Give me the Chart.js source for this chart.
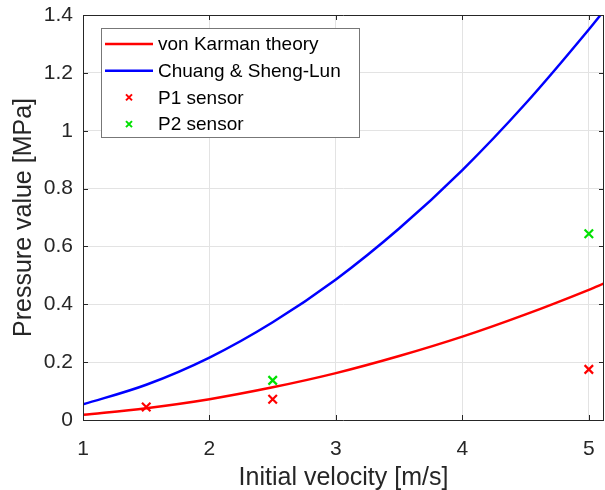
<!DOCTYPE html>
<html>
<head>
<meta charset="utf-8">
<script src="https://cdn.jsdelivr.net/npm/chart.js@4/dist/chart.umd.min.js"></script>
<style>
  html, body { margin: 0; padding: 0; background: #fff; }
  #wrap { width: 605px; height: 490px; }
</style>
</head>
<body>
<div id="wrap"><canvas id="myCanvas" width="605" height="490"></canvas></div>
<script>
'use strict';

// values
let velocity = [1, 1.5, 2, 2.5, 3, 3.5, 4, 4.5, 5, 5.12];
let karman   = [0.018, 0.041, 0.072, 0.113, 0.162, 0.221, 0.288, 0.365, 0.45, 0.472];
let chuang   = [0.054, 0.122, 0.216, 0.338, 0.486, 0.662, 0.864, 1.094, 1.35, 1.415];

let p1Vel = [1.5, 2.5, 5];
let p1Val = [0.045, 0.072, 0.175];
let p2Vel = [2.5, 5];
let p2Val = [0.137, 0.644];

let xTicks = [1, 2, 3, 4, 5];
let yTicks = [0, 0.2, 0.4, 0.6, 0.8, 1, 1.2, 1.4];

let fontName = "'Liberation Sans', Arial, sans-serif";
let axisColor = '#262626';

function toPoints(xs, ys){
	let pts = [];
	for (let i = 0; i < xs.length; i++) {
		pts.push({x: xs[i], y: ys[i]});
	}
	return pts;
}

// MATLAB style box with inward ticks
let boxPlugin = {
	id: 'box',
	afterDatasetsDraw(chart){
		let ctx = chart.ctx;
		let a = chart.chartArea;
		let xs = chart.scales.x, ys = chart.scales.y;
		ctx.save();
		ctx.strokeStyle = axisColor;
		ctx.lineWidth = 1;
		ctx.beginPath();
		ctx.rect(Math.round(a.left) + 0.5, Math.round(a.top) + 0.5,
			Math.round(a.right - a.left) - 1, Math.round(a.bottom - a.top));
		for (let t of xTicks) {
			let px = Math.round(xs.getPixelForValue(t)) + 0.5;
			ctx.moveTo(px, a.bottom); ctx.lineTo(px, a.bottom - 5);
			ctx.moveTo(px, a.top); ctx.lineTo(px, a.top + 5);
		}
		for (let t of yTicks) {
			let py = Math.round(ys.getPixelForValue(t)) + 0.5;
			ctx.moveTo(a.left, py); ctx.lineTo(a.left + 5, py);
			ctx.moveTo(a.right, py); ctx.lineTo(a.right - 5, py);
		}
		ctx.stroke();
		ctx.restore();
	}
};

// legend box inside the axes
let legendPlugin = {
	id: 'boxLegend',
	afterDraw(chart){
		let ctx = chart.ctx;
		let bx = 101, by = 28, bw = 258, bh = 109;
		ctx.save();
		ctx.fillStyle = '#fff';
		ctx.fillRect(bx, by, bw, bh);
		ctx.strokeStyle = '#777';
		ctx.lineWidth = 1;
		ctx.strokeRect(bx + 0.5, by + 0.5, bw, bh);
		ctx.font = '19px ' + fontName;
		ctx.textBaseline = 'middle';
		ctx.fillStyle = '#000';
		chart.data.datasets.forEach(function(ds, i){
			let cy = 44 + i * 26.7;
			ctx.strokeStyle = ds.borderColor;
			ctx.lineWidth = 2.5;
			ctx.beginPath();
			if (ds.showLine) {
				ctx.moveTo(105, cy); ctx.lineTo(153, cy);
			} else {
				ctx.lineWidth = 2;
				ctx.moveTo(126, cy - 3); ctx.lineTo(132, cy + 3);
				ctx.moveTo(126, cy + 3); ctx.lineTo(132, cy - 3);
			}
			ctx.stroke();
			ctx.fillText(ds.label, 158, cy + 1);
		});
		ctx.restore();
	}
};

let myChart = document.getElementById('myCanvas').getContext('2d');
let myPlot = new Chart(myChart, {
	type: 'scatter',
	data: {
		datasets: [{
			label: 'von Karman theory',
			data: toPoints(velocity, karman),
			showLine: true,
			borderColor: '#ff0000',
			borderWidth: 2.5,
			pointRadius: 0,
			cubicInterpolationMode: 'monotone'
		}, {
			label: 'Chuang & Sheng-Lun',
			data: toPoints(velocity, chuang),
			showLine: true,
			borderColor: '#0000ff',
			borderWidth: 2.5,
			pointRadius: 0,
			cubicInterpolationMode: 'monotone'
		}, {
			label: 'P1 sensor',
			data: toPoints(p1Vel, p1Val),
			showLine: false,
			borderColor: '#ff0000',
			pointStyle: 'crossRot',
			pointRadius: 6,
			borderWidth: 2.2
		}, {
			label: 'P2 sensor',
			data: toPoints(p2Vel, p2Val),
			showLine: false,
			borderColor: '#00e000',
			pointStyle: 'crossRot',
			pointRadius: 6,
			borderWidth: 2.2
		}]
	},
	options: {
		responsive: false,
		animation: false,
		layout: { autoPadding: false, padding: { top: 15, right: 1, left: 0, bottom: 0 } },
		plugins: {
			legend: { display: false },
			tooltip: { enabled: false }
		},
		scales: {
			x: {
				type: 'linear',
				min: 1,
				max: 5.12,
				afterBuildTicks: function(scale){
					scale.ticks = xTicks.map(function(v){ return {value: v}; });
				},
				afterFit: function(scale){
					scale.height = 70;
					scale.paddingLeft = 0;
					scale.paddingRight = 0;
				},
				grid: { color: '#e3e3e3', drawTicks: false },
				border: { display: false },
				ticks: {
					color: axisColor,
					padding: 17,
					font: { family: fontName, size: 21 }
				},
				title: {
					display: true,
					text: 'Initial velocity [m/s]',
					color: axisColor,
					padding: { top: 0, bottom: -3 },
					font: { family: fontName, size: 25 }
				}
			},
			y: {
				type: 'linear',
				min: 0,
				max: 1.4,
				afterBuildTicks: function(scale){
					scale.ticks = yTicks.map(function(v){ return {value: v}; });
				},
				afterFit: function(scale){
					scale.width = 83;
					scale.paddingTop = 0;
					scale.paddingBottom = 0;
				},
				grid: { color: '#e3e3e3', drawTicks: false },
				border: { display: false },
				ticks: {
					color: axisColor,
					padding: 10,
					font: { family: fontName, size: 21 },
					callback: function(v){ return String(Math.round(v * 10) / 10); }
				},
				title: {
					display: true,
					text: 'Pressure value [MPa]',
					color: axisColor,
					padding: { top: 9, bottom: 0 },
					font: { family: fontName, size: 25 }
				}
			}
		}
	},
	plugins: [boxPlugin, legendPlugin]
});
</script>
</body>
</html>
